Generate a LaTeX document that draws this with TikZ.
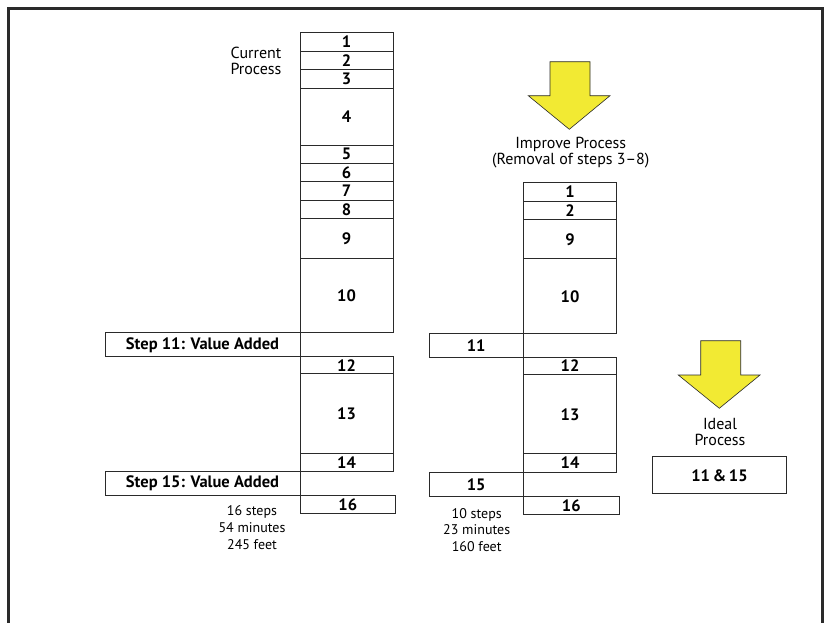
\documentclass[tikz,border=0pt]{standalone}
\usepackage{fontspec}
\setmainfont{PT Sans}
\definecolor{arrowyellow}{HTML}{F2EA33}
\definecolor{lineg}{HTML}{2A2A2A}
\tikzset{
  x=1pt,y=-1pt,
  stepbox/.style={draw=lineg,line width=0.9pt,inner sep=0pt,font=\fontsize{16.5}{18}\selectfont\bfseries},
  lbl/.style={inner sep=0pt,align=center,font=\fontsize{16}{16}\selectfont},
  small/.style={inner sep=0pt,align=center,font=\fontsize{14}{16.8}\selectfont},
  bigarrow/.style={fill=arrowyellow,draw=lineg,line width=0.6pt,line join=miter}
}
\newcommand{\stepnode}[6]{\node[stepbox,minimum width={(#4-#2)*1pt},minimum height={(#5-#3)*1pt}] (#1) at ({(#2+#4)/2},{(#3+#5)/2+0.6}) {#6};}
\begin{document}
\begin{tikzpicture}
\useasboundingbox (0,0) rectangle (826,622);
\fill[white] (0,0) rectangle (826,622);
% frame
\draw[lineg,line width=2.4pt] (8.5,630) -- (8.5,8.5) -- (822.5,8.5) -- (822.5,630);

% current process
\node[lbl] (curlbl) at (256,60.5) {Current\\Process};
\stepnode{c1}{300}{31.7}{393}{50.7}{1}
\stepnode{c2}{300}{50.7}{393}{69.3}{2}
\stepnode{c3}{300}{69.3}{393}{88}{3}
\stepnode{c4}{300}{88}{393}{144.5}{4}
\stepnode{c5}{300}{144.5}{393}{162.7}{5}
\stepnode{c6}{300}{162.7}{393}{180.7}{6}
\stepnode{c7}{300}{180.7}{393}{199.7}{7}
\stepnode{c8}{300}{199.7}{393}{218.3}{8}
\stepnode{c9}{300}{218.3}{393}{258}{9}
\stepnode{c10}{300}{258}{393}{332.3}{10}
\stepnode{c11}{105}{332.3}{300}{356}{Step 11: Value Added}
\stepnode{c12}{300}{356}{393}{373.3}{12}
\stepnode{c13}{300}{373.3}{393}{452.7}{13}
\stepnode{c14}{300}{452.7}{393}{470.7}{14}
\stepnode{c15}{105}{470.7}{300}{494.7}{Step 15: Value Added}
\stepnode{c16}{300}{494.7}{395.5}{512.7}{16}
\node[small] (cstats) at (252,527.5) {16 steps\\54 minutes\\245 feet};

% improve arrow
\draw[bigarrow] (550,61.7) -- (590,61.7) -- (590,95.7) -- (610,95.7) -- (569.3,129.3) -- (528.3,95.7) -- (550,95.7) -- cycle;
\node[lbl] (implbl) at (570.7,152.5) {Improve Process\\(Removal of steps 3–8)};

% improved process
\stepnode{i1}{523.3}{181.7}{616.7}{200.7}{1}
\stepnode{i2}{523.3}{200.7}{616.7}{219.3}{2}
\stepnode{i9}{523.3}{219.3}{616.7}{258}{9}
\stepnode{i10}{523.3}{258}{616.7}{333.3}{10}
\stepnode{i11}{429}{333.3}{523.3}{356.7}{11}
\stepnode{i12}{523.3}{356.7}{616.7}{374}{12}
\stepnode{i13}{523.3}{374}{616.7}{453.3}{13}
\stepnode{i14}{523.3}{453.3}{616.7}{471.7}{14}
\stepnode{i15}{429}{471.7}{523.3}{496}{15}
\stepnode{i16}{523.3}{496}{619.3}{514.3}{16}
\node[small] (istats) at (476.7,530) {10 steps\\23 minutes\\160 feet};

% ideal arrow
\draw[bigarrow] (700.7,340.7) -- (740.7,340.7) -- (740.7,375) -- (760,375) -- (719.3,408.3) -- (678.3,375) -- (700.7,375) -- cycle;
\node[lbl] (idlbl) at (720,432) {Ideal\\Process};
\stepnode{ideal}{652.3}{456}{786.7}{493.3}{11\,\&\,15}
\end{tikzpicture}
\end{document}
